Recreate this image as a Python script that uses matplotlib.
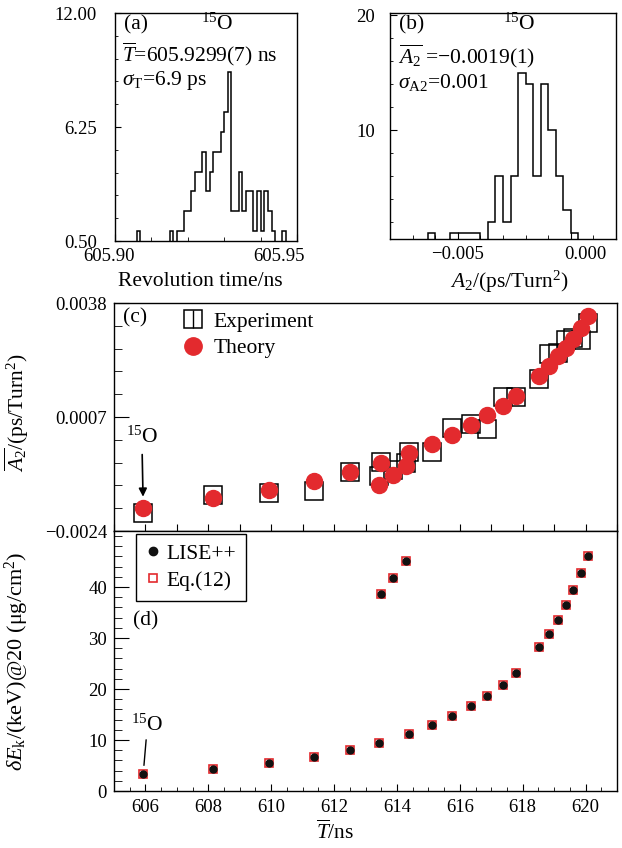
import numpy as np
import matplotlib
matplotlib.use("Agg")
from matplotlib import pyplot as plt
from matplotlib.lines import Line2D
from matplotlib.legend_handler import HandlerTuple
from matplotlib.ticker import MultipleLocator, FixedLocator, NullFormatter
from matplotlib.transforms import ScaledTranslation

plt.rcParams['font.family'] = ['Liberation Serif', 'DejaVu Serif']
plt.rcParams['mathtext.fontset'] = 'custom'
plt.rcParams['mathtext.rm'] = 'Liberation Serif'
plt.rcParams['mathtext.it'] = 'Liberation Serif:italic'
plt.rcParams['mathtext.bf'] = 'Liberation Serif:bold'
plt.rcParams['axes.linewidth'] = 1.0

# (a) revolution time of 15O, 1 ps bins
rev_t_range = (605.900, 605.950)
rev_counts = [0, 0, 0, 0, 0, 0, 1, 0, 0, 0,
              0, 0, 0, 0, 0, 1, 0, 1, 1, 2,
              2, 3, 4, 4, 5, 3, 4, 5, 5, 6,
              7, 9, 2, 2, 4, 2, 3, 3, 1, 3,
              1, 3, 2, 1, 0, 0, 1, 0, 0, 0]

# (b) fitted A2 of 15O
a2_range = (-0.008, 0.002)
a2_counts = [0, 0, 0, 0, 0, 1, 0, 0, 1, 1,
             1, 1, 0, 2, 6, 2, 6, 15, 14, 6,
             14, 10, 6, 3, 1, 0, 0, 0, 0, 0]

# (c), (d) mean revolution time of each nuclide
t_mean = [605.93, 608.16, 609.94, 611.35, 612.51, 613.42, 613.50, 613.87,
          614.28, 614.37, 615.11, 615.76, 616.36, 616.88, 617.36, 617.78,
          618.52, 618.85, 619.13, 619.39, 619.60, 619.85, 620.07]
a2_exp = [-0.00192, -0.00141, -0.00137, -0.00130, -0.00080, -0.00090, -0.00052,
          -0.00075, -0.00055, -0.00024, -0.00024, 0.00040, 0.00052, 0.00038,
          0.00124, 0.00125, 0.00173, 0.00242, 0.00245, 0.00280, 0.00286,
          0.00279, 0.00325]
a2_theory = [-0.00177, -0.00150, -0.00128, -0.00103, -0.00079, -0.00116, -0.00054,
             -0.00089, -0.00064, -0.00029, -0.00004, 0.00022, 0.00048, 0.00075,
             0.00100, 0.00127, 0.00181, 0.00208, 0.00236, 0.00257, 0.00281,
             0.00311, 0.00345]
dek_lise = [3.4, 4.4, 5.5, 6.7, 8.1, 9.5, 38.7, 41.8, 45.1, 11.2, 12.9, 14.7,
            16.6, 18.6, 20.8, 23.1, 28.2, 30.8, 33.6, 36.5, 39.5, 42.8, 46.0]
dek_eq12 = [3.4, 4.4, 5.5, 6.7, 8.1, 9.5, 38.7, 41.8, 45.1, 11.2, 12.9, 14.7,
            16.6, 18.6, 20.8, 23.1, 28.2, 30.8, 33.6, 36.5, 39.5, 42.8, 46.0]

RED = '#e32a2e'
FS = 15.5       # labels, legends, panel notes
FS_TICK = 13.5  # tick labels
W, H = 622, 848


def px_axes(fig, x0, y0, x1, y1):
    return fig.add_axes([x0 / W, 1 - y1 / H, (x1 - x0) / W, (y1 - y0) / H])


def shift_label(fig, lbl, dx_px):
    lbl.set_transform(lbl.get_transform() + ScaledTranslation(dx_px / 100, 0, fig.dpi_scale_trans))


def note(ax, x, y, s, ha='left'):
    ax.text(x, y, s, transform=ax.transAxes, ha=ha, va='center', fontsize=FS)


fig = plt.figure(figsize=(6.22, 8.48), dpi=100)
ax_a = px_axes(fig, 115, 13, 297, 241)
ax_b = px_axes(fig, 390, 13, 616, 239)
ax_c = px_axes(fig, 114, 303, 617, 531)
ax_d = px_axes(fig, 114, 531, 617, 791)

for ax in (ax_a, ax_b, ax_c, ax_d):
    ax.tick_params(which='both', direction='in', top=False, right=False, labelsize=FS_TICK)

# (a)
edges = np.linspace(rev_t_range[0], rev_t_range[1], len(rev_counts) + 1)
ax_a.stairs(rev_counts, edges, baseline=0, color='k', lw=1.1)
ax_a.set_xlim(*rev_t_range)
ax_a.set_ylim(0.5, 12.0)
ax_a.set_xticks([605.90, 605.95], ['605.90', '605.95'])
ax_a.xaxis.set_minor_locator(MultipleLocator(0.01))
ax_a.set_yticks([0.5, 6.25, 12.0], ['0.50', '6.25', '12.00'])
ax_a.yaxis.set_minor_locator(FixedLocator(np.arange(0.5, 12.01, 1.15)))
ax_a.tick_params(axis='y', which='major', length=4, pad=13)
ax_a.tick_params(axis='y', which='minor', length=2.2)
ax_a.tick_params(axis='x', which='major', length=5, pad=5)
ax_a.tick_params(axis='x', which='minor', length=3)
for lbl, dx in zip(ax_a.get_xticklabels(), [-6, -18]):
    shift_label(fig, lbl, dx)
ax_a.set_xlabel('Revolution time/ns', fontsize=FS)
ax_a.xaxis.set_label_coords(0.47, -0.135)
note(ax_a, 0.05, 0.947, '(a)')
note(ax_a, 0.56, 0.95, r'$^{15}$O', ha='center')
note(ax_a, 0.04, 0.818, r'$\overline{T}$=605.9299(7) ns')
note(ax_a, 0.04, 0.704, r'$\sigma_{\rm T}$=6.9 ps')

# (b)
edges = np.linspace(a2_range[0], a2_range[1], len(a2_counts) + 1)
ax_b.stairs(a2_counts, edges, baseline=0, color='k', lw=1.1)
ax_b.set_xlim(*a2_range)
ax_b.set_ylim(0.5, 20.2)
ax_b.set_xticks([-0.005, 0.0], ['\u22120.005', '0.000'])
ax_b.xaxis.set_minor_locator(MultipleLocator(0.001))
ax_b.set_yticks([10, 20])
ax_b.yaxis.set_minor_locator(MultipleLocator(2))
ax_b.tick_params(axis='y', which='major', length=5, pad=11)
ax_b.tick_params(axis='y', which='minor', length=2.5)
ax_b.tick_params(axis='x', which='major', length=5, pad=5)
ax_b.tick_params(axis='x', which='minor', length=3)
shift_label(fig, ax_b.get_xticklabels()[1], 15)
ax_b.set_xlabel(r'$A_2$/(ps/Turn$^2$)', fontsize=FS)
ax_b.xaxis.set_label_coords(0.53, -0.13)
note(ax_b, 0.04, 0.947, '(b)')
note(ax_b, 0.573, 0.95, r'$^{15}$O', ha='center')
note(ax_b, 0.035, 0.81, r'$\overline{A_2}$ =' + '\u22120.0019(1)')
note(ax_b, 0.035, 0.692, r'$\sigma_{\rm A2}$=0.001')

# (c)
ax_c.plot(t_mean, a2_exp, ls='none', marker='s', ms=12.5, mfc='none', mec='k', mew=1.1, zorder=2)
ax_c.plot(t_mean, a2_theory, ls='none', marker='o', ms=11.5, color=RED, mec=RED, zorder=3)
ax_c.set_xlim(605, 621)
ax_c.set_ylim(-0.0024, 0.0038)
ax_c.set_yticks([-0.0024, 0.0007, 0.0038], ['\u22120.0024', '0.0007', '0.0038'])
ax_c.yaxis.set_minor_locator(FixedLocator(np.linspace(-0.0024, 0.0038, 11)))
ax_c.xaxis.set_major_locator(MultipleLocator(1))
ax_c.xaxis.set_major_formatter(NullFormatter())
ax_c.tick_params(axis='x', which='major', direction='inout', length=10)
ax_c.tick_params(axis='y', which='major', length=10.8, pad=5)
ax_c.tick_params(axis='y', which='minor', length=5.8)
ax_c.set_ylabel(r'$\overline{A_2}$/(ps/Turn$^2$)', fontsize=FS)
ax_c.yaxis.set_label_coords(-0.165, 0.52)
note(ax_c, 0.018, 0.937, '(c)')
# square with the error bar through it, as in the legend key
h_exp = (Line2D([], [], ls='none', marker='s', ms=12.5, mfc='none', mec='k', mew=1.1),
         Line2D([], [], ls='none', marker='|', ms=12.5, mec='k', mew=1.0))
h_th = Line2D([], [], ls='none', marker='o', ms=12.5, color=RED)
ax_c.legend([h_exp, h_th], ['Experiment', 'Theory'], loc='upper left',
            bbox_to_anchor=(0.118, 1.0), frameon=False, fontsize=FS, handlelength=1.0,
            handletextpad=0.45, labelspacing=0.3, borderaxespad=0.0,
            handler_map={tuple: HandlerTuple(ndivide=1)})
ax_c.annotate(r'$^{15}$O', xy=(t_mean[0], a2_theory[0]), xytext=(-1, 51),
              textcoords='offset points', ha='center', va='center', fontsize=FS,
              arrowprops=dict(arrowstyle='-|>', color='k', lw=1.2, shrinkA=3,
                              shrinkB=8, mutation_scale=12))

# (d)
ax_d.plot(t_mean, dek_eq12, ls='none', marker='s', ms=6, mfc='none', mec=RED, mew=1.2, zorder=2)
ax_d.plot(t_mean, dek_lise, ls='none', marker='o', ms=5, color='#111111', zorder=3)
ax_d.set_xlim(605, 621)
ax_d.set_ylim(0, 51)
ax_d.xaxis.set_major_locator(MultipleLocator(2))
ax_d.xaxis.set_minor_locator(MultipleLocator(0.5))
ax_d.set_yticks([0, 10, 20, 30, 40])
ax_d.yaxis.set_minor_locator(MultipleLocator(2))
ax_d.tick_params(axis='x', which='major', length=5, pad=6)
ax_d.tick_params(axis='x', which='minor', length=2.8)
ax_d.tick_params(axis='y', which='major', length=10.8, pad=5)
ax_d.tick_params(axis='y', which='minor', length=5.8)
ax_d.set_ylabel(r'$\delta E_{\rm k}$/(keV)@20 (' + '\u03bcg/cm' + r'$^2$)', fontsize=16)
ax_d.yaxis.set_label_coords(-0.165, 0.5)
ax_d.set_xlabel(r'$\overline{T}$/ns', fontsize=FS)
ax_d.xaxis.set_label_coords(0.44, -0.115)
note(ax_d, 0.038, 0.655, '(d)')
h_lise = Line2D([], [], ls='none', marker='o', ms=6, color='#111111')
h_eq = Line2D([], [], ls='none', marker='s', ms=6, mfc='none', mec=RED, mew=1.2)
leg = ax_d.legend([h_lise, h_eq], ['LISE++', 'Eq.(12)'], loc='upper left',
                  bbox_to_anchor=(0.044, 0.988), frameon=True, fancybox=False,
                  edgecolor='k', framealpha=1, fontsize=FS, handlelength=0.7,
                  handletextpad=0.25, labelspacing=0.32, borderaxespad=0,
                  borderpad=0.45)
leg.get_frame().set_linewidth(1.0)
ax_d.annotate(r'$^{15}$O', xy=(t_mean[0], dek_lise[0]), xytext=(3, 35),
              textcoords='offset points', ha='center', va='center', fontsize=FS,
              arrowprops=dict(arrowstyle='-', color='k', lw=1.0, shrinkA=1, shrinkB=6))

fig.savefig('out.png', dpi=100)
